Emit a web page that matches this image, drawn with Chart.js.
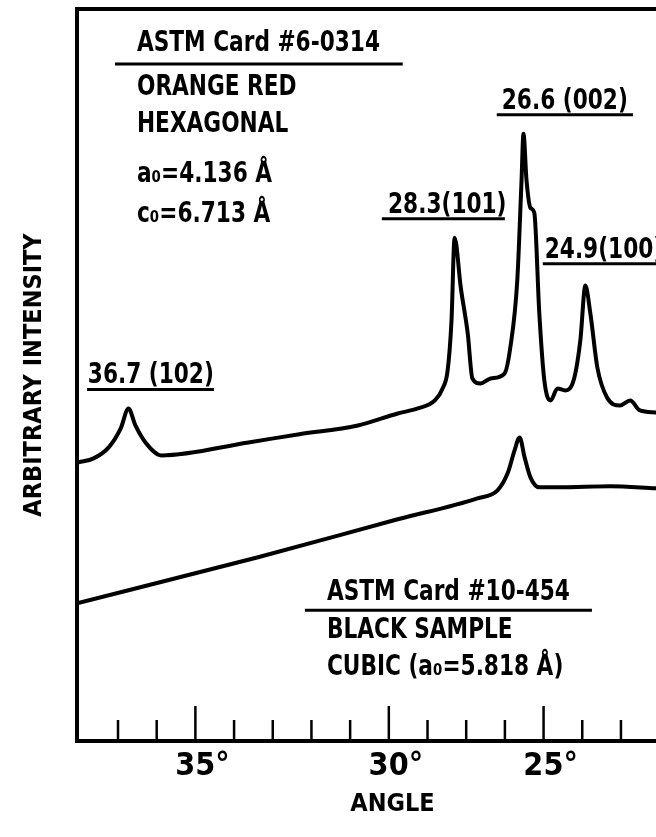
<!DOCTYPE html>
<html>
<head>
<meta charset="utf-8">
<script src="https://cdn.jsdelivr.net/npm/chart.js@4.4.0/dist/chart.umd.min.js"></script>
<style>
  html, body { margin: 0; padding: 0; background: #fff; overflow: hidden; }
  #wrap { width: 656px; height: 837px; overflow: hidden; }
</style>
</head>
<body>
<div id="wrap"><canvas id="xrd" width="708" height="837"></canvas></div>
<script>
// orange red sample trace (angle in degrees, arbitrary intensity)
var redAngle = [38.02, 37.63, 37.24, 36.93, 36.73, 36.55, 36.29, 35.88, 33.63, 32.35, 30.80, 29.77,
  29.25, 28.81, 28.61, 28.48, 28.38, 28.30, 28.14, 27.96, 27.84, 27.63, 27.37, 27.01, 26.86, 26.68,
  26.57, 26.52, 26.44, 26.34, 26.24, 26.11, 25.98, 25.82, 25.64, 25.44, 25.21, 25.05, 24.92, 24.79,
  24.61, 24.36, 24.02, 23.76, 23.51, 23.10];
var redIntensity = [279, 283, 294, 313, 333, 316, 299, 286, 299, 307, 316, 328,
  333, 341, 353, 371, 421, 504, 454, 408, 363, 358, 363, 368, 394, 461,
  561, 608, 561, 534, 529, 428, 361, 341, 353, 351, 363, 401, 456, 428,
  374, 344, 336, 341, 331, 329];

// black sample trace
var blackAngle = [38.06, 33.38, 29.77, 27.71, 27.19, 26.93, 26.75, 26.62, 26.49, 26.34, 26.11, 25.57, 24.28, 23.10];
var blackIntensity = [138, 184, 222, 243, 251, 268, 291, 304, 284, 264, 254, 254, 255, 253];

// axis ticks: one per degree, three of them labelled (as printed)
var tickAngles = [37, 36, 35, 34, 33, 32, 31, 30, 29, 28, 27, 26, 25, 24, 23, 22];
var labelledTicks = [35, 30, 26];
var tickTexts = ['35°', '30°', '25°'];

var FONT = '"Liberation Sans Narrow", "Arial Narrow", "DejaVu Sans Condensed", sans-serif';

// text written on the plot, placed in data units
var notes = [
  { text: 'ASTM Card #6-0314', a: 36.51, i: 691, line: [37.08, 29.64, 678] },
  { text: 'ORANGE RED', a: 36.51, i: 647 },
  { text: 'HEXAGONAL', a: 36.51, i: 610 },
  { text: 'a₀=4.136 Å', a: 36.51, i: 560 },
  { text: 'c₀=6.713 Å', a: 36.51, i: 520 },
  { text: '26.6 (002)', a: 27.08, i: 633, line: [27.21, 23.69, 627] },
  { text: '28.3(101)', a: 30.02, i: 529, line: [30.18, 27.0, 523] },
  { text: '24.9(100)', a: 25.97, i: 484, line: [26.02, 22.9, 478] },
  { text: '36.7 (102)', a: 37.78, i: 358, line: [37.80, 34.52, 352] },
  { text: 'ASTM Card #10-454', a: 31.60, i: 141, line: [32.17, 24.75, 131] },
  { text: 'BLACK SAMPLE', a: 31.60, i: 103 },
  { text: 'CUBIC (a₀=5.818 Å)', a: 31.60, i: 66 }
];

function toPoints(xs, ys) {
  var pts = [];
  for (var k = 0; k < xs.length; k++) pts.push({ x: xs[k], y: ys[k] });
  return pts;
}

var paperPlugin = {
  id: 'paper',
  afterDatasetsDraw: function (chart) {
    var ctx = chart.ctx;
    var xs = chart.scales.x, ys = chart.scales.y;
    var area = chart.chartArea;
    ctx.save();
    ctx.strokeStyle = '#000';
    ctx.lineCap = 'butt';
    // top edge of the frame
    ctx.lineWidth = 4;
    ctx.beginPath();
    ctx.moveTo(area.left - 2, area.top);
    ctx.lineTo(area.right + 2, area.top);
    ctx.stroke();
    // tick marks pointing up into the plot
    ctx.lineWidth = 2.5;
    xs.ticks.forEach(function (t) {
      var px = xs.getPixelForValue(t.value);
      var len = labelledTicks.indexOf(t.value) >= 0 ? 35 : 21;
      ctx.beginPath();
      ctx.moveTo(px, area.bottom);
      ctx.lineTo(px, area.bottom - len);
      ctx.stroke();
    });
    // labels (hand lettering is narrower than the font) and their underlines
    ctx.fillStyle = '#000';
    ctx.font = 'bold 28px ' + FONT;
    ctx.textAlign = 'left';
    ctx.textBaseline = 'alphabetic';
    ctx.lineWidth = 3;
    notes.forEach(function (n) {
      var x0 = xs.getPixelForValue(n.a), y0 = ys.getPixelForValue(n.i);
      ctx.save();
      ctx.translate(x0, y0);
      ctx.scale(0.86, 1);
      ctx.fillText(n.text, 0, 0);
      ctx.restore();
      if (n.line) {
        var ly = ys.getPixelForValue(n.line[2]);
        ctx.beginPath();
        ctx.moveTo(xs.getPixelForValue(n.line[0]), ly);
        ctx.lineTo(xs.getPixelForValue(n.line[1]), ly);
        ctx.stroke();
      }
    });
    ctx.restore();
  }
};

var chart = new Chart(document.getElementById('xrd'), {
  type: 'line',
  data: {
    datasets: [{
      label: 'Orange red',
      data: toPoints(redAngle, redIntensity),
      borderColor: '#000',
      borderWidth: 4,
      pointRadius: 0,
      cubicInterpolationMode: 'monotone',
      borderJoinStyle: 'round',
      borderCapStyle: 'round'
    }, {
      label: 'Black sample',
      data: toPoints(blackAngle, blackIntensity),
      borderColor: '#000',
      borderWidth: 4,
      pointRadius: 0,
      cubicInterpolationMode: 'monotone',
      borderJoinStyle: 'round',
      borderCapStyle: 'round'
    }]
  },
  options: {
    responsive: false,
    animation: false,
    devicePixelRatio: 1,
    layout: { padding: { left: 0, top: 9, right: 0, bottom: 0 } },
    plugins: { legend: { display: false }, tooltip: { enabled: false } },
    scales: {
      x: {
        type: 'linear',
        reverse: true,
        min: 21.75,
        max: 38.06,
        afterFit: function (s) { s.height = 96; },
        afterBuildTicks: function (s) {
          s.ticks = tickAngles.map(function (v) { return { value: v }; });
        },
        grid: { display: false, drawTicks: false },
        border: { display: true, color: '#000', width: 4 },
        ticks: {
          autoSkip: false,
          maxRotation: 0,
          padding: 6,
          labelOffset: 7,
          color: '#000',
          font: { family: FONT, size: 32, weight: 'bold' },
          callback: function (v) {
            var k = labelledTicks.indexOf(v);
            return k >= 0 ? tickTexts[k] : '';
          }
        },
        title: {
          display: true,
          text: 'ANGLE',
          color: '#000',
          font: { family: FONT, size: 25, weight: 'bold', lineHeight: 1 },
          padding: { top: 0, bottom: 20 }
        }
      },
      y: {
        min: 0,
        max: 733,
        afterFit: function (s) { s.width = 77; },
        grid: { display: false, drawTicks: false },
        border: { display: true, color: '#000', width: 4 },
        ticks: { display: false },
        title: {
          display: true,
          text: 'ARBITRARY INTENSITY',
          color: '#000',
          font: { family: FONT, size: 25, weight: 'bold', lineHeight: 1 },
          padding: { top: 22, bottom: 0 }
        }
      }
    }
  },
  plugins: [paperPlugin]
});
</script>
</body>
</html>
